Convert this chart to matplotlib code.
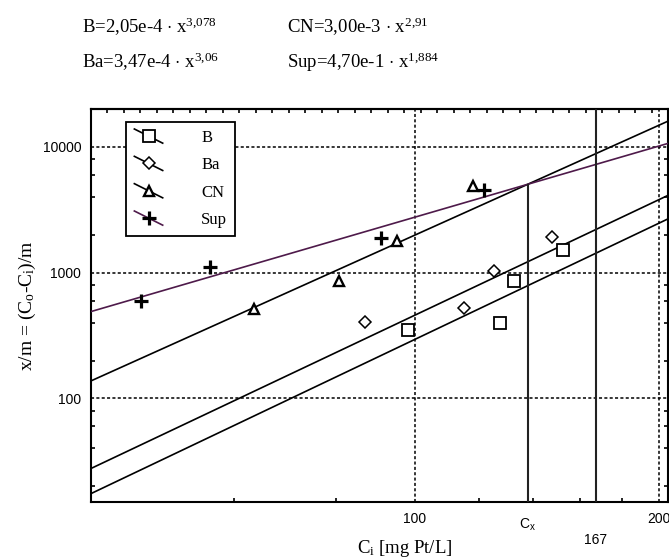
import numpy as np
import matplotlib
matplotlib.use('Agg')
import matplotlib.pyplot as plt
from matplotlib.lines import Line2D
from matplotlib.legend_handler import HandlerBase
from matplotlib.ticker import FixedLocator, NullFormatter, FixedFormatter, MultipleLocator
import matplotlib.transforms as mtransforms

plt.rcParams['mathtext.fontset'] = 'custom'
plt.rcParams['mathtext.rm'] = 'Liberation Serif'
plt.rcParams['mathtext.it'] = 'Liberation Serif:italic'
plt.rcParams['mathtext.sf'] = 'Liberation Sans'

# ---- data ----
series_names = ['B', 'Ba', 'CN', 'Sup']
b_x = [98.3, 127.3, 132.7, 152.1]
b_y = [349, 400, 855, 1500]
ba_x = [86.8, 115.0, 125.4, 147.6]
ba_y = [404, 526, 1027, 1927]
cn_x = [63.5, 80.7, 95.1, 117.9]
cn_y = [516, 855, 1778, 4864]
sup_x = [46.1, 56.1, 91.0, 121.7]
sup_y = [593, 1105, 1892, 4580]

# power-law fits y = a * x^b
fit_a = [2.05e-4, 3.47e-4, 3.00e-3, 4.70e-1]
fit_b = [3.078, 3.06, 2.91, 1.884]
equations = [r'B=2,05e-4 $\cdot$ x$^{3{,}078}$', r'Ba=3,47e-4 $\cdot$ x$^{3{,}06}$',
             r'CN=3,00e-3 $\cdot$ x$^{2{,}91}$', r'Sup=4,70e-1 $\cdot$ x$^{1{,}884}$']

x_marker_167 = 167
xlim = (40, 205)
ylim = (15, 20000)
x_major = [100, 200]
x_minor = [60, 80, 120, 140, 160, 180]
y_major = [100, 1000, 10000]
y_minor = [20, 40, 60, 80, 200, 400, 600, 800, 2000, 4000, 6000, 8000]

# ---- styles ----
line_colors = ['black', 'black', 'black', '#4e1a4a']
markers = ['s', 'D', '^', '+']
msizes = [8.5, 6.3, 7, 10]
mews = [1.3, 1.1, 1.7, 2.3]
tick_fs = 10

fig = plt.figure(figsize=(6.69, 5.59), dpi=100)
ax = fig.add_axes([91/669, 57/559, 577/669, 393/559])
ax.set_xscale('log')
ax.set_yscale('log')
ax.set_xlim(*xlim)
ax.set_ylim(*ylim)

xs = np.logspace(np.log10(xlim[0]), np.log10(xlim[1]), 300)
xdata = [b_x, ba_x, cn_x, sup_x]
ydata = [b_y, ba_y, cn_y, sup_y]
handles = []
for i, name in enumerate(series_names):
    ax.plot(xs, fit_a[i] * xs ** fit_b[i], color=line_colors[i], lw=1.2, zorder=3)
    ax.plot(xdata[i], ydata[i], linestyle='none', marker=markers[i], ms=msizes[i],
            mfc='white' if markers[i] != '+' else 'black', mec='black', mew=mews[i], zorder=5)
    h = Line2D([], [], color=line_colors[i], lw=1.2, marker=markers[i], ms=msizes[i],
               mfc='white', mec='black', mew=mews[i])
    handles.append(h)

# intersection of CN and Sup fits -> Cx
cx = (fit_a[3] / fit_a[2]) ** (1.0 / (fit_b[2] - fit_b[3]))
cy = fit_a[3] * cx ** fit_b[3]
ax.vlines(cx, ylim[0], cy, color='#222222', lw=1.5, zorder=4)
ax.axvline(x_marker_167, color='#222222', lw=1.5, zorder=4)

# grid
ax.set_axisbelow(False)
ax.grid(which='major', color='black', linestyle=(0, (2, 1.5)), linewidth=1.1, zorder=2)

# ticks
ax.xaxis.set_major_locator(FixedLocator(x_major))
ax.xaxis.set_major_formatter(FixedFormatter([str(v) for v in x_major]))
ax.xaxis.set_minor_locator(FixedLocator(x_minor))
ax.xaxis.set_minor_formatter(NullFormatter())
ax.yaxis.set_major_locator(FixedLocator(y_major))
ax.yaxis.set_major_formatter(FixedFormatter([str(v) for v in y_major]))
ax.yaxis.set_minor_locator(FixedLocator(y_minor))
ax.yaxis.set_minor_formatter(NullFormatter())
ax.tick_params(which='both', direction='in', top=False, right=True, labelright=False)
ax.tick_params(which='major', length=0, labelsize=tick_fs)
ax.tick_params(axis='y', which='major', pad=7)
ax.tick_params(axis='x', which='major', pad=7)
ax.tick_params(which='minor', length=3, width=1.2)
for lab in ax.get_xticklabels() + ax.get_yticklabels():
    lab.set_fontfamily('Liberation Sans')

# evenly spaced ticks on top spine
def fwd(x):
    x = np.clip(np.asarray(x, dtype=float), 1e-12, None)
    return (np.log10(x) - np.log10(xlim[0])) / (np.log10(xlim[1]) - np.log10(xlim[0]))
def inv(v):
    return 10 ** (np.log10(xlim[0]) + np.asarray(v) * (np.log10(xlim[1]) - np.log10(xlim[0])))
sec = ax.secondary_xaxis('top', functions=(fwd, inv))
sec.xaxis.set_major_locator(MultipleLocator(1/35))
sec.xaxis.set_major_formatter(NullFormatter())
sec.tick_params(direction='in', length=3, width=1.2)
sec.spines['top'].set_linewidth(1.5)

for s in ax.spines.values():
    s.set_linewidth(1.5)

# extra x labels
trans = mtransforms.blended_transform_factory(ax.transData, ax.transAxes)
ax.text(cx, -0.037, r'C$_{\mathsf{x}}$', transform=trans, ha='center', va='top',
        fontsize=tick_fs, fontfamily='Liberation Sans')
ax.text(x_marker_167, -0.078, str(x_marker_167), transform=trans, ha='center', va='top',
        fontsize=tick_fs, fontfamily='Liberation Sans')

ax.set_xlabel(r'C$_\mathrm{i}$ [mg Pt/L]', fontfamily='Liberation Serif', fontsize=13.5)
ax.xaxis.set_label_coords(0.544, -0.092)
ax.set_ylabel(r'x/m = (C$_\mathrm{o}$-C$_\mathrm{i}$)/m', fontfamily='Liberation Serif', fontsize=14)
ax.yaxis.set_label_coords(-0.092, 0.50)

# legend with sloped line handles
class SlopeHandler(HandlerBase):
    def create_artists(self, legend, orig_handle, xdescent, ydescent, width, height, fontsize, trans):
        x0, x1 = -xdescent, -xdescent + width
        yc = -ydescent + height / 2
        dy = width * 0.25
        ln = Line2D([x0, x1], [yc + dy, yc - dy], color=orig_handle.get_color(), lw=1.2)
        mk = Line2D([(x0 + x1) / 2], [yc], linestyle='none', marker=orig_handle.get_marker(),
                    ms=orig_handle.get_markersize(), mfc='white', mec='black',
                    mew=orig_handle.get_markeredgewidth())
        ln.set_transform(trans)
        mk.set_transform(trans)
        return [ln, mk]

leg = ax.legend(handles, series_names, loc='upper left', bbox_to_anchor=(0.0607, 0.968),
                borderaxespad=0, fancybox=False, framealpha=1, edgecolor='black',
                prop={'family': 'Liberation Serif', 'size': 12},
                handler_map={h: SlopeHandler() for h in handles},
                handlelength=1.7, handletextpad=2.3, borderpad=0.5, labelspacing=0.68)
leg.get_frame().set_linewidth(1.3)
leg.set_zorder(10)

# equations
eq_pos = [(82, 33.3), (82, 67.7), (287, 33.3), (287, 67.7)]
for (px, py), txt in zip(eq_pos, equations):
    fig.text(px / 669, 1 - py / 559, txt, fontfamily='Liberation Serif', fontsize=13.5,
             ha='left', va='baseline')

fig.savefig('out.png', dpi=100)
